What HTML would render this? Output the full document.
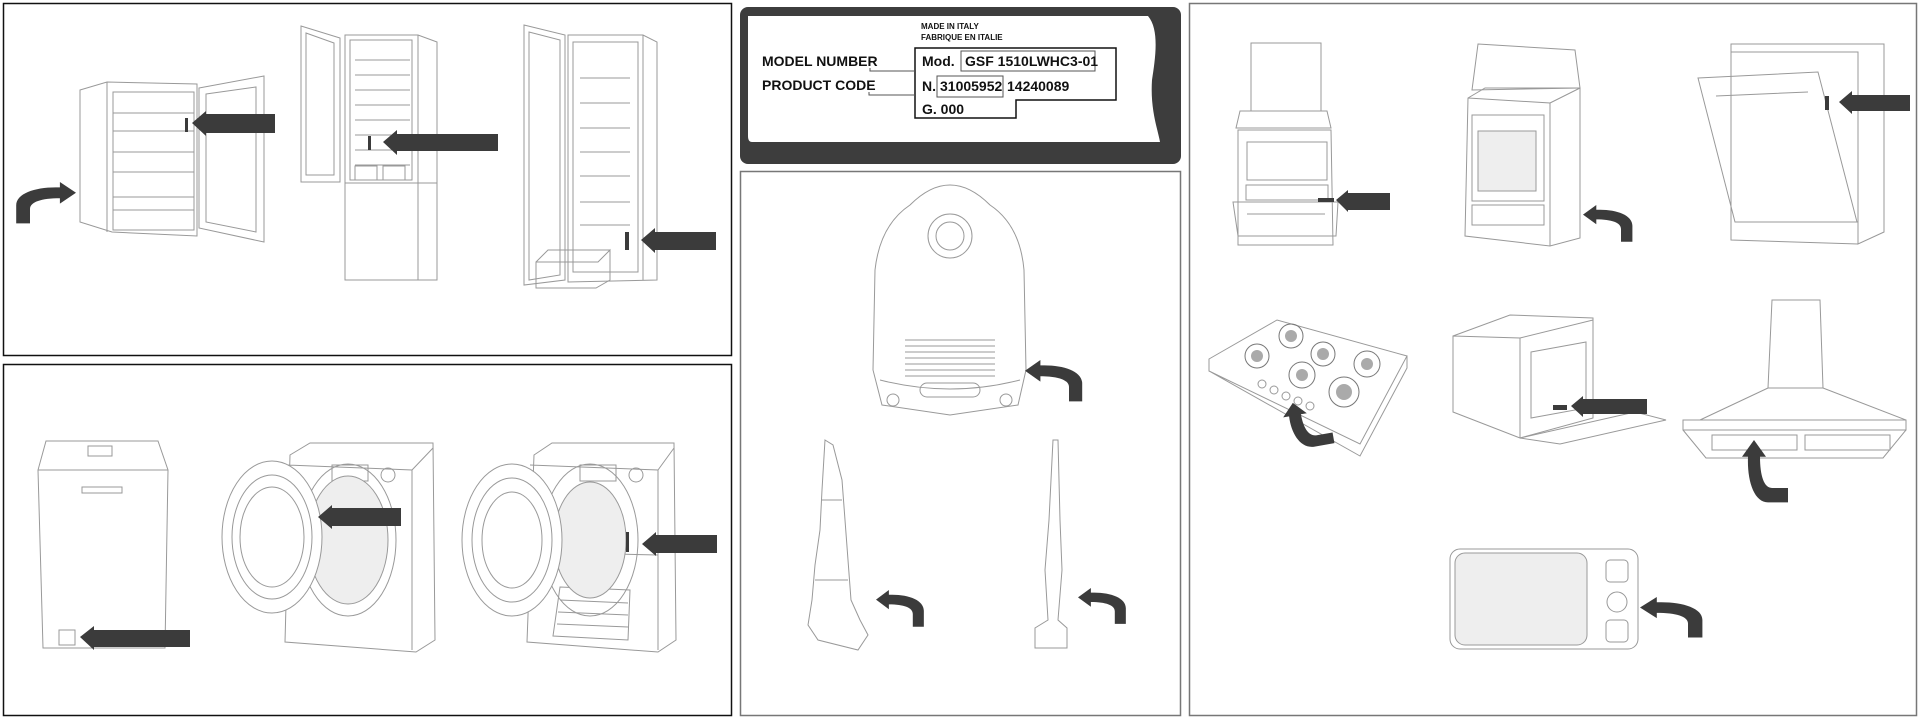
<!DOCTYPE html>
<html><head><meta charset="utf-8"><style>
html,body{margin:0;padding:0;background:#fff;width:1920px;height:720px;overflow:hidden}
svg{display:block}
text{font-family:"Liberation Sans",Arial,sans-serif;font-weight:bold;fill:#111}
</style></head><body>
<svg width="1920" height="720" viewBox="0 0 1920 720" xmlns="http://www.w3.org/2000/svg">
<defs>
<path id="ca" d="M0,12 L14,0 L14,6 C34,5 52,12 52,26 L52,46 L40,46 L40,30 C40,22 30,18 14,18 L14,24 Z" fill="#3b3b3b"/>
</defs>
<g fill="none" stroke="#111" stroke-width="1.5">
<rect x="3.5" y="3.5" width="728" height="352"/>
<rect x="3.5" y="364.5" width="728" height="351"/>
</g>
<g fill="none" stroke="#777" stroke-width="1.5">
<rect x="740.5" y="171.5" width="440" height="544"/>
<rect x="1189.5" y="3.5" width="727" height="712"/>
</g>
<!-- label -->
<rect x="740" y="7" width="441" height="157" rx="8" fill="#3d3d3d"/>
<path d="M748,16 L1148,16 C1160,30 1155,60 1152,80 C1150,110 1158,130 1160,142 L752,142 Q748,142 748,136 Z" fill="#fff"/>
<text x="921" y="29" font-size="8">MADE IN ITALY</text>
<text x="921" y="40" font-size="8">FABRIQUE EN ITALIE</text>
<text x="762" y="66" font-size="14">MODEL NUMBER</text>
<text x="762" y="90" font-size="14">PRODUCT CODE</text>
<path d="M915,48 L1116,48 L1116,100 L1016,100 L1016,118 L915,118 Z" fill="none" stroke="#111" stroke-width="1.5"/>
<rect x="961" y="51" width="134" height="20" fill="none" stroke="#555"/>
<rect x="937" y="76" width="66" height="21" fill="none" stroke="#555"/>
<path d="M870,68 L870,71 L915,71 M869,92 L869,95 L915,95" fill="none" stroke="#555"/>
<text x="922" y="66" font-size="14">Mod.</text>
<text x="965" y="66" font-size="14">GSF 1510LWHC3-01</text>
<text x="922" y="91" font-size="14">N.</text>
<text x="940" y="91" font-size="14">31005952</text>
<text x="1007" y="91" font-size="14">14240089</text>
<text x="922" y="114" font-size="14">G. 000</text>

<g fill="none" stroke="#999" stroke-width="1">
<!-- fridge 1 -->
<path d="M80,90 L107,82 L197,84 L197,236 L112,232 L80,222 Z M107,82 L107,232"/>
<rect x="113" y="92" width="81" height="138"/>
<path d="M113,113 L194,113 M113,131 L194,131 M113,152 L194,152 M113,172 L194,172 M113,197 L194,197 M113,210 L194,210"/>
<path d="M199,88 L264,76 L264,242 L199,228 Z M206,94 L256,87 L256,232 L206,222 Z"/>
<!-- fridge 2 -->
<path d="M301,26 L340,38 L340,182 L301,182 Z M306,33 L334,43 L334,175 L306,175 Z"/>
<path d="M345,35 L418,35 L437,42 L437,280 L345,280 Z M418,35 L418,280"/>
<rect x="350" y="40" width="62" height="140"/>
<path d="M355,60 L410,60 M355,75 L410,75 M355,90 L410,90 M355,105 L410,105 M355,120 L410,120 M355,135 L410,135 M355,150 L410,150 M355,165 L410,165 M345,183 L437,183"/>
<rect x="355" y="166" width="22" height="14"/><rect x="383" y="166" width="22" height="14"/>
<!-- fridge 3 -->
<path d="M524,25 L565,35 L565,280 L524,285 Z M529,32 L560,40 L560,275 L529,280 Z"/>
<path d="M568,35 L643,35 L657,42 L657,280 L568,282 Z M643,35 L643,280"/>
<rect x="573" y="42" width="65" height="230"/>
<path d="M580,78 L630,78 M580,103 L630,103 M580,128 L630,128 M580,152 L630,152 M580,176 L630,176 M580,202 L630,202 M580,225 L630,225"/>
<path d="M536,262 L598,262 L610,250 L610,280 L596,288 L536,288 Z M536,262 L548,250 L610,250"/>
<!-- top loader -->
<path d="M46,441 L158,441 L168,470 L165,648 L43,648 L38,470 Z M38,470 L168,470"/>
<rect x="88" y="446" width="24" height="10"/><rect x="82" y="487" width="40" height="6"/>
<rect x="59" y="630" width="16" height="15"/>
<!-- washer 2 -->
<path d="M290,455 L310,443 L433,443 L435,640 L416,652 L285,642 Z M287,465 L412,470 L412,650 M412,470 L433,448"/>
<rect x="332" y="465" width="36" height="16"/><circle cx="388" cy="475" r="7"/>
<ellipse cx="348" cy="540" rx="48" ry="76"/><ellipse cx="348" cy="540" rx="40" ry="64" fill="#eee"/>
<ellipse cx="272" cy="537" rx="50" ry="76" fill="#fff"/><ellipse cx="272" cy="537" rx="40" ry="62"/><ellipse cx="272" cy="537" rx="32" ry="50"/>
<!-- washer 3 -->
<path d="M534,455 L552,443 L674,443 L676,640 L658,652 L527,642 Z M530,465 L658,470 L658,650 M658,470 L674,448 M530,552 L658,555"/>
<rect x="580" y="465" width="36" height="16"/><circle cx="636" cy="475" r="7"/>
<path d="M560,587 L630,590 L628,640 L553,636 Z M560,600 L628,603 M558,612 L628,615 M557,624 L628,627"/>
<ellipse cx="590" cy="540" rx="48" ry="76"/><ellipse cx="590" cy="540" rx="36" ry="58" fill="#eee"/>
<ellipse cx="512" cy="540" rx="50" ry="76" fill="#fff"/><ellipse cx="512" cy="540" rx="40" ry="62"/><ellipse cx="512" cy="540" rx="30" ry="48"/>
<!-- canister vacuum -->
<path d="M910,205 Q950,165 990,205 Q1020,225 1024,270 L1026,370 L1018,405 L950,415 L882,405 L873,370 L875,270 Q880,225 910,205 Z"/>
<circle cx="950" cy="236" r="22"/><circle cx="950" cy="236" r="14"/>
<path d="M905,340 L995,340 M905,346 L995,346 M905,352 L995,352 M905,358 L995,358 M905,364 L995,364 M905,370 L995,370 M905,376 L995,376 M880,380 Q950,398 1020,380"/>
<rect x="920" y="383" width="60" height="14" rx="7"/><circle cx="893" cy="400" r="6"/><circle cx="1006" cy="400" r="6"/>
<!-- upright -->
<path d="M825,440 L833,445 L842,480 L848,560 L851,600 L860,620 L868,635 L858,650 L818,640 L808,625 L812,600 L815,565 L820,530 L822,490 Z M815,580 L848,580 M822,500 L842,500"/>
<!-- stick -->
<path d="M1053,440 L1058,440 L1060,520 L1062,570 L1058,620 L1067,628 L1067,648 L1035,648 L1035,628 L1048,620 L1045,570 L1049,520 Z"/>
<!-- cooker 1 -->
<rect x="1251" y="43" width="70" height="68"/>
<path d="M1240,111 L1327,111 L1331,128 L1236,128 Z M1238,130 L1331,130 L1333,245 L1238,245 Z"/>
<rect x="1247" y="142" width="80" height="38"/><rect x="1246" y="185" width="82" height="15"/>
<path d="M1233,202 L1338,202 L1336,236 L1238,236 Z M1247,214 L1325,214"/>
<!-- cooker 2 -->
<path d="M1478,44 L1575,50 L1580,88 L1472,90 Z"/>
<path d="M1468,98 L1485,88 L1580,88 L1580,238 L1550,246 L1465,236 Z M1468,98 L1550,103 L1550,246 M1550,103 L1580,88"/>
<rect x="1472" y="115" width="72" height="86"/><rect x="1478" y="131" width="58" height="60" fill="#eee"/>
<rect x="1472" y="205" width="72" height="20"/>
<!-- dishwasher -->
<path d="M1731,44 L1884,44 L1884,232 L1858,244 L1731,240 Z M1731,52 L1858,52 L1858,244 L1884,232"/>
<path d="M1698,78 L1818,72 L1857,222 L1735,222 Z M1716,96 L1808,92"/>
<!-- hob -->
<path d="M1209,359 L1277,320 L1407,356 L1360,444 L1209,371 Z M1209,371 L1360,456 L1407,368 L1407,356"/>
<g stroke="#777"><circle cx="1291" cy="336" r="12"/><circle cx="1323" cy="354" r="12"/><circle cx="1257" cy="356" r="12"/><circle cx="1367" cy="364" r="13"/><circle cx="1302" cy="375" r="13"/><circle cx="1344" cy="392" r="15"/></g>
<g fill="#aaa" stroke="none"><circle cx="1291" cy="336" r="6"/><circle cx="1323" cy="354" r="6"/><circle cx="1257" cy="356" r="6"/><circle cx="1367" cy="364" r="6"/><circle cx="1302" cy="375" r="6"/><circle cx="1344" cy="392" r="8"/></g>
<circle cx="1262" cy="384" r="4"/><circle cx="1274" cy="390" r="4"/><circle cx="1286" cy="396" r="4"/><circle cx="1298" cy="401" r="4"/><circle cx="1310" cy="406" r="4"/>
<!-- built-in oven -->
<path d="M1453,336 L1510,315 L1593,318 L1593,330 M1453,336 L1520,338 L1520,438 L1453,412 Z"/>
<path d="M1520,338 L1593,320 L1593,418 L1520,438 M1531,352 L1586,342 L1586,408 L1531,418 Z"/>
<path d="M1520,438 L1560,444 L1666,420 L1635,412 Z"/>
<!-- hood -->
<path d="M1772,300 L1820,300 L1823,388 L1768,388 Z M1768,388 L1700,420 L1906,420 L1823,388 M1683,420 L1906,420 L1906,430 L1683,430 Z M1683,430 L1706,458 L1883,458 L1906,430"/>
<rect x="1712" y="435" width="85" height="15"/><rect x="1805" y="435" width="85" height="15"/>
<!-- microwave -->
<rect x="1450" y="549" width="188" height="100" rx="10"/><rect x="1455" y="553" width="132" height="92" rx="10" fill="#eee"/>
<rect x="1606" y="560" width="22" height="22" rx="4"/><circle cx="1617" cy="602" r="10"/><rect x="1606" y="620" width="22" height="22" rx="4"/>
</g>
<!-- straight arrows -->
<g fill="#3b3b3b">
<path d="M192,123 L206,111 L206,114 L275,114 L275,133 L206,133 L206,136 Z"/>
<path d="M383,142 L397,130 L397,134 L498,134 L498,151 L397,151 L397,155 Z"/>
<path d="M641,240 L655,228 L655,232 L716,232 L716,250 L655,250 L655,253 Z"/>
<path d="M80,637 L94,626 L94,630 L190,630 L190,647 L94,647 L94,650 Z"/>
<path d="M318,517 L332,505 L332,508 L401,508 L401,526 L332,526 L332,529 Z"/>
<path d="M642,544 L656,532 L656,535 L717,535 L717,553 L656,553 L656,556 Z"/>
<path d="M1336,200 L1348,190 L1348,193 L1390,193 L1390,210 L1348,210 L1348,212 Z"/>
<path d="M1839,102 L1852,91 L1852,95 L1910,95 L1910,111 L1852,111 L1852,114 Z"/>
<path d="M1571,406 L1583,396 L1583,399 L1647,399 L1647,414 L1583,414 L1583,417 Z"/>
<rect x="185" y="118" width="3" height="14"/><rect x="368" y="136" width="3" height="14"/><rect x="625" y="232" width="4" height="18"/>
<rect x="1318" y="198" width="16" height="4"/><rect x="1825" y="96" width="4" height="14"/><rect x="1553" y="405" width="14" height="5"/>
<rect x="626" y="532" width="3" height="20"/>
</g>
<!-- curved arrows -->
<use href="#ca" transform="translate(76,182) scale(-1.15,0.9)"/>
<use href="#ca" transform="translate(1025,360) scale(1.1,0.9)"/>
<use href="#ca" transform="translate(876,590) scale(0.92,0.8)"/>
<use href="#ca" transform="translate(1078,588) scale(0.92,0.78)"/>
<use href="#ca" transform="translate(1583,205) scale(0.95,0.8)"/>
<use href="#ca" transform="translate(1640,597) scale(1.2,0.88)"/>
<use href="#ca" transform="translate(1281,405) rotate(80) scale(0.9,-1)"/>
<use href="#ca" transform="translate(1742,440) rotate(90) scale(1.2,-1)"/>
</svg>
</body></html>
